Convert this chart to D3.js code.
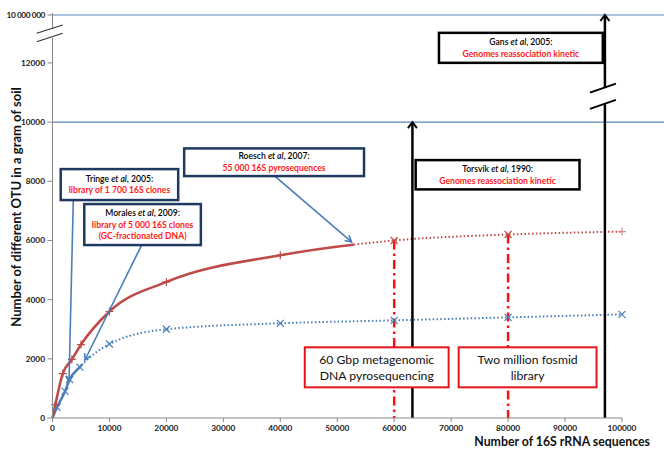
<!DOCTYPE html>
<html><head><meta charset="utf-8">
<script src="https://cdn.jsdelivr.net/npm/d3@7"></script>
<style>
html,body{margin:0;padding:0;background:#fff;}
svg{display:block;font-family:Lato,"Open Sans",sans-serif;}
</style></head>
<body>
<svg id="chart" width="664" height="453"></svg>
<script>
// ---- data ----
const xTicks = [0,10000,20000,30000,40000,50000,60000,70000,80000,90000,100000];
const yTicks = [0,2000,4000,6000,8000,10000,12000];
const yTopValue = 13620;            // position of the broken-axis top label
const yTopLabel = "10 000 000";

const redX = [0, 500, 1800, 3400, 5000, 10000, 20000, 40000, 60000, 80000, 100000];
const redY = [0, 450, 1500, 1980, 2480, 3600, 4600, 5500, 6000, 6200, 6300];
const blueX = [0, 800, 2200, 3000, 4800, 10000, 20000, 40000, 60000, 80000, 100000];
const blueY = [0, 360, 900, 1300, 1720, 2500, 3000, 3200, 3300, 3400, 3500];
const redSolidEnd = 53000;
const blueSolidEnd = 5200;

const dashDotX = [60000, 80000];
const blackArrows = [{x:63200, y0:0, y1:10000}, {x:97000, y0:0, y1:yTopValue}];
const hLines = [10000, yTopValue];

const annotations = [
  {x0:1440, x1:22070, y0:8412, y1:7365, border:"#1f3a60",
   lines:[[["Tringe ",0],["et al",1],[", 2005:",0]], [["library of 1 700 16S clones",2]]]},
  {x0:5580, x1:26050, y0:7230, y1:5845, border:"#1f3a60",
   lines:[[["Morales ",0],["et al",1],[", 2009:",0]], [["library of 5 000 16S clones",2]], [["(GC-fractionated DNA)",2]]]},
  {x0:23120, x1:54700, y0:9111, y1:8176, border:"#1f3a60",
   lines:[[["Roesch ",0],["et al",1],[", 2007:",0]], [["55 000 16S pyrosequences",2]]]},
  {x0:67860, x1:96630, y0:13017, y1:12003, border:"#000",
   lines:[[["Gans ",0],["et al",1],[", 2005:",0]], [["Genomes reassociation  kinetic",2]]]},
  {x0:63770, x1:92540, y0:8716, y1:7726, border:"#000",
   lines:[[["Torsvik ",0],["et al",1],[", 1990:",0]], [["Genomes reassociation  kinetic",2]]]}
];
const bigBoxes = [
  {x0:44300, x1:69560, y0:2389, y1:1037, lines:["60 Gbp metagenomic","DNA pyrosequencing"]},
  {x0:71320, x1:95530, y0:2389, y1:1037, lines:["Two million fosmid","library"]}
];
const pointers = [
  {x0:3650, y0:7365, x1:2900, y1:1216},
  {x0:15650, y0:5845, x1:5700, y1:1960},
  {x0:39040, y0:8176, x1:52500, y1:5950}
];

// ---- scales ----
const svg = d3.select("#chart");
const x = d3.scaleLinear().domain([0,100000]).range([52.5,622]);
const y = d3.scaleLinear().domain([0,yTopValue]).range([418,15]);
const W = 664;

// horizontal reference lines
svg.selectAll("line.h").data(hLines).enter().append("line")
  .attr("x1", x(0)).attr("x2", W).attr("y1", d=>y(d)).attr("y2", d=>y(d))
  .attr("stroke","#5b86c0").attr("stroke-width",1.2);

// clip paths for solid / dotted split
const defs = svg.append("defs");
function clip(id, a, b){
  defs.append("clipPath").attr("id",id).append("rect")
    .attr("x", x(a)).attr("y", 0).attr("width", x(b)-x(a)).attr("height", 453);
}
clip("redSolid", -2000, redSolidEnd);
clip("redDot", redSolidEnd, 102000);
clip("blueSolid", -2000, blueSolidEnd);
clip("blueDot", blueSolidEnd, 102000);

const line = d3.line().x(d=>x(d[0])).y(d=>y(d[1])).curve(d3.curveMonotoneX);
const redData = redX.map((v,i)=>[v,redY[i]]);
const blueData = blueX.map((v,i)=>[v,blueY[i]]);

// dash-dot verticals
const redAt = xv => redY[redX.indexOf(xv)];
svg.selectAll("line.dd").data(dashDotX).enter().append("line")
  .attr("x1", d=>x(d)).attr("x2", d=>x(d)).attr("y1", d=>y(redAt(d))).attr("y2", y(0))
  .attr("stroke","#ff1010").attr("stroke-width",2.5).attr("stroke-dasharray","9 4 2.5 4");

// series
svg.append("path").attr("d", line(blueData)).attr("fill","none")
  .attr("stroke","#4a7ebb").attr("stroke-width",2.5).attr("clip-path","url(#blueSolid)");
svg.append("path").attr("d", line(blueData)).attr("fill","none")
  .attr("stroke","#4a7ebb").attr("stroke-width",2).attr("stroke-dasharray","1.5 2.3")
  .attr("clip-path","url(#blueDot)");
svg.append("path").attr("d", line(redData)).attr("fill","none")
  .attr("stroke","#be4b48").attr("stroke-width",2.6).attr("clip-path","url(#redSolid)");
svg.append("path").attr("d", line(redData)).attr("fill","none")
  .attr("stroke","#be4b48").attr("stroke-width",2).attr("stroke-dasharray","1.5 2.3")
  .attr("clip-path","url(#redDot)");

// markers
const s = 3.5;
svg.selectAll("path.bm").data(blueData.slice(1)).enter().append("path")
  .attr("d", d=>`M${x(d[0])-s},${y(d[1])-s}L${x(d[0])+s},${y(d[1])+s}M${x(d[0])-s},${y(d[1])+s}L${x(d[0])+s},${y(d[1])-s}`)
  .attr("stroke","#4a7ebb").attr("stroke-width",1.2).attr("fill","none");
svg.selectAll("path.rm").data(redData.slice(1)).enter().append("path")
  .attr("d", d=> (d[0]===60000||d[0]===80000)
     ? `M${x(d[0])-s},${y(d[1])-s}L${x(d[0])+s},${y(d[1])+s}M${x(d[0])-s},${y(d[1])+s}L${x(d[0])+s},${y(d[1])-s}`
     : `M${x(d[0])-s-0.5},${y(d[1])}L${x(d[0])+s+0.5},${y(d[1])}M${x(d[0])},${y(d[1])-s-0.5}L${x(d[0])},${y(d[1])+s+0.5}`)
  .attr("stroke", d=> d[0]===100000 ? "#d9908e" : "#be4b48").attr("stroke-width",1.2).attr("fill","none");

// black arrows
blackArrows.forEach((a,i)=>{
  if(i===1){
    const gTop = 11150, gBot = 10600;
    svg.append("line").attr("x1",x(a.x)).attr("x2",x(a.x)).attr("y1",y(a.y0)).attr("y2",y(gBot))
      .attr("stroke","#000").attr("stroke-width",2.5);
    svg.append("line").attr("x1",x(a.x)).attr("x2",x(a.x)).attr("y1",y(gTop)).attr("y2",y(a.y1)+1)
      .attr("stroke","#000").attr("stroke-width",2.5);
    [gTop, gBot].forEach(v=>{
      svg.append("line").attr("x1",x(a.x)-15).attr("y1",y(v)+4.5).attr("x2",x(a.x)+11).attr("y2",y(v)-4.5)
        .attr("stroke","#000").attr("stroke-width",2);
    });
  } else {
    svg.append("line").attr("x1",x(a.x)).attr("x2",x(a.x)).attr("y1",y(a.y0)).attr("y2",y(a.y1)+1)
      .attr("stroke","#000").attr("stroke-width",2.5);
  }
  const tx=x(a.x), ty=y(a.y1);
  svg.append("path").attr("d",`M${tx-4.5},${ty+6}L${tx},${ty}L${tx+4.5},${ty+6}`)
    .attr("stroke","#000").attr("stroke-width",2).attr("fill","none");
});

// axes
const axG = svg.append("g");
axG.append("line").attr("x1",x(0)).attr("x2",x(100000)).attr("y1",y(0)).attr("y2",y(0))
  .attr("stroke","#888").attr("stroke-width",1);
// y axis with break
axG.append("line").attr("x1",x(0)).attr("x2",x(0)).attr("y1",y(0)).attr("y2",38)
  .attr("stroke","#888").attr("stroke-width",1);
axG.append("line").attr("x1",x(0)).attr("x2",x(0)).attr("y1",29).attr("y2",y(yTopValue)-2)
  .attr("stroke","#888").attr("stroke-width",1);
[[36.7,33.3,62.7,25],[36.7,41.7,62.7,33.3]].forEach(c=>{
  axG.append("line").attr("x1",c[0]).attr("y1",c[1]).attr("x2",c[2]).attr("y2",c[3])
    .attr("stroke","#333").attr("stroke-width",1.2);
});
// x ticks
axG.selectAll("line.xt").data(xTicks).enter().append("line")
  .attr("x1",d=>x(d)).attr("x2",d=>x(d)).attr("y1",y(0)).attr("y2",y(0)+4)
  .attr("stroke","#888");
axG.selectAll("text.xt").data(xTicks).enter().append("text")
  .attr("x",d=>x(d)).attr("y",431).attr("text-anchor","middle")
  .attr("font-size",8.3).attr("font-weight","bold").attr("fill","#222")
  .text(d=>d);
// y ticks
const yAllTicks = yTicks.concat([yTopValue]);
axG.selectAll("line.yt").data(yAllTicks).enter().append("line")
  .attr("x1",x(0)-5).attr("x2",x(0)).attr("y1",d=>y(d)).attr("y2",d=>y(d))
  .attr("stroke","#888");
axG.selectAll("text.yt").data(yAllTicks).enter().append("text")
  .attr("x",45).attr("y",d=>y(d)+3).attr("text-anchor","end")
  .attr("font-size",8.3).attr("font-weight","bold").attr("fill","#222")
  .attr("letter-spacing", d=> d===yTopValue ? -0.4 : 0)
  .text(d=> d===yTopValue ? yTopLabel : d);

// axis titles
svg.append("text").attr("transform","translate(21,207) rotate(-90)")
  .attr("text-anchor","middle").attr("font-size",13).attr("font-weight","bold").attr("fill","#111")
  .text("Number of different OTU in a gram of soil");
svg.append("text").attr("x",650).attr("y",446).attr("text-anchor","end")
  .attr("font-size",12.3).attr("font-weight","bold").attr("fill","#111")
  .text("Number of 16S rRNA sequences");

// pointer arrows (blue)
pointers.forEach(p=>{
  const x0=x(p.x0), y0=y(p.y0), x1=x(p.x1), y1=y(p.y1);
  svg.append("line").attr("x1",x0).attr("y1",y0).attr("x2",x1).attr("y2",y1)
    .attr("stroke","#4a7ebb").attr("stroke-width",1.6);
  const ang = Math.atan2(y1-y0, x1-x0), L=7, w=0.5;
  svg.append("path").attr("d",
    `M${x1-L*Math.cos(ang-w)},${y1-L*Math.sin(ang-w)}L${x1},${y1}L${x1-L*Math.cos(ang+w)},${y1-L*Math.sin(ang+w)}`)
    .attr("stroke","#4a7ebb").attr("stroke-width",1.6).attr("fill","none");
});

// annotation boxes
annotations.forEach(a=>{
  const bx=x(a.x0), by=y(a.y0), bw=x(a.x1)-x(a.x0), bh=y(a.y1)-y(a.y0);
  svg.append("rect").attr("x",bx).attr("y",by).attr("width",bw).attr("height",bh)
    .attr("fill","#fff").attr("stroke",a.border).attr("stroke-width",2.5);
  const n=a.lines.length, lh=11.5;
  const cy = by+bh/2 - (n-1)*lh/2;
  a.lines.forEach((ln,i)=>{
    const t = svg.append("text").attr("x",bx+bw/2).attr("y",cy+i*lh+3)
      .attr("text-anchor","middle").attr("font-size",8.6);
    ln.forEach(part=>{
      t.append("tspan").text(part[0])
        .attr("font-style", part[1]===1 ? "italic":"normal")
        .attr("font-weight", part[1]===2 ? "bold":"600")
        .attr("fill", part[1]===2 ? "#ff1a1a" : "#000");
    });
  });
});

// big red boxes
bigBoxes.forEach(b=>{
  const bx=x(b.x0), by=y(b.y0), bw=x(b.x1)-x(b.x0), bh=y(b.y1)-y(b.y0);
  svg.append("rect").attr("x",bx).attr("y",by).attr("width",bw).attr("height",bh)
    .attr("fill","#fff").attr("stroke","#e3161b").attr("stroke-width",2);
  b.lines.forEach((t,i)=>{
    svg.append("text").attr("x",bx+bw/2).attr("y",by+bh/2-8+i*16+4.5)
      .attr("text-anchor","middle").attr("font-size",12.2).attr("fill","#111").text(t);
  });
});
</script>
</body></html>
